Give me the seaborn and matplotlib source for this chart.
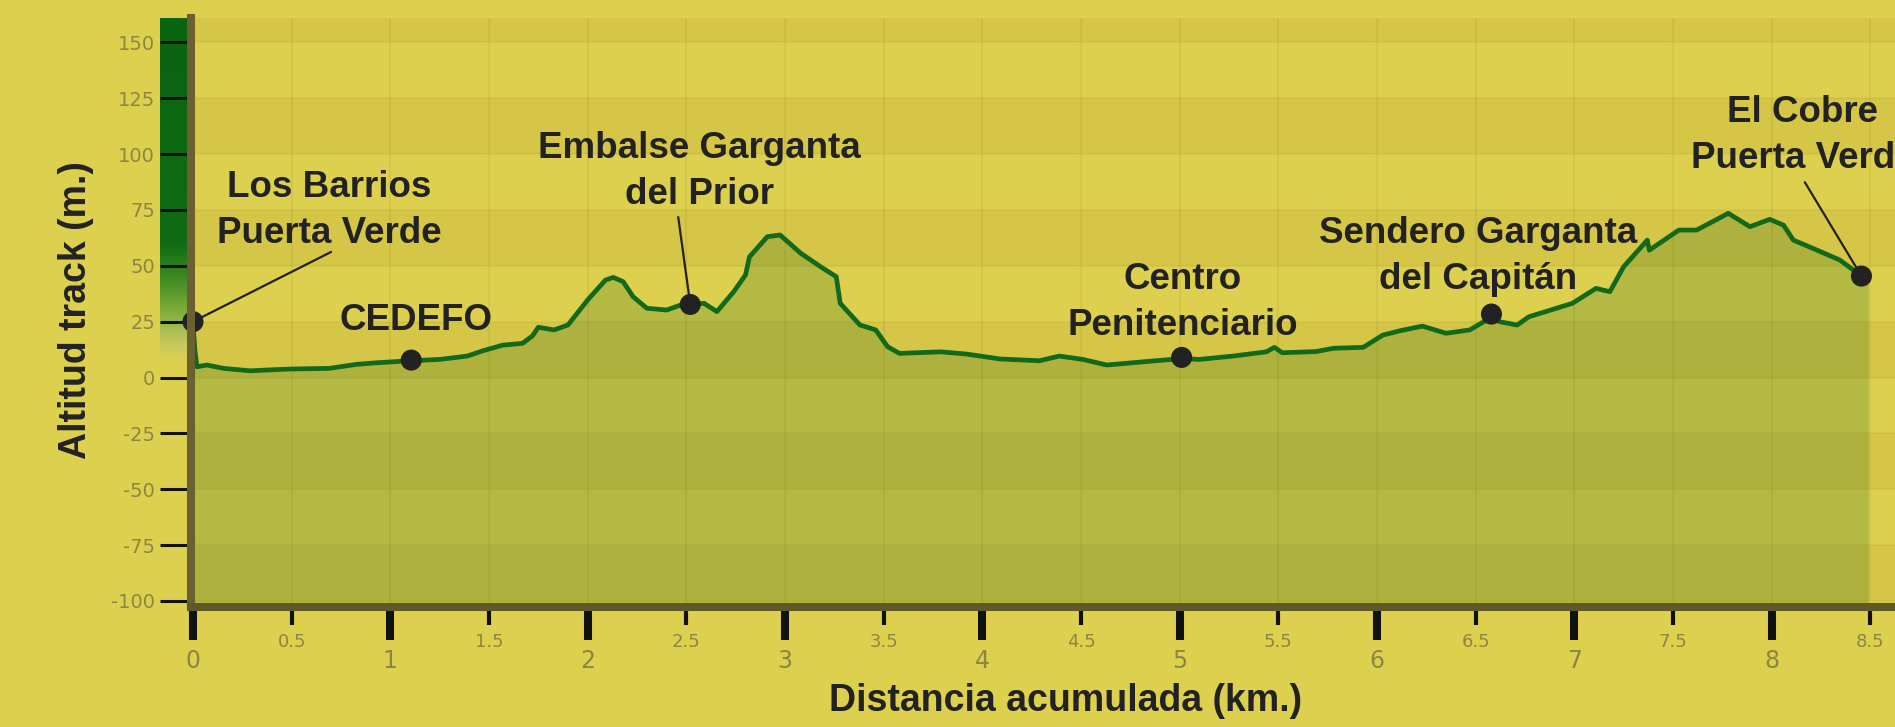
import numpy as np
import pandas as pd
import matplotlib
matplotlib.use("Agg")
import matplotlib.pyplot as plt
from matplotlib.colors import LinearSegmentedColormap
import seaborn as sns

# ---------------- data ----------------
dist_km = [0.000, 0.010, 0.020, 0.070, 0.155, 0.290, 0.360, 0.490, 0.690, 0.830,
           0.930, 1.100, 1.250, 1.390, 1.470, 1.570, 1.670, 1.720, 1.750, 1.830,
           1.900, 2.000, 2.090, 2.130, 2.180, 2.230, 2.300, 2.400, 2.470, 2.590,
           2.655, 2.740, 2.800, 2.820, 2.910, 2.975, 3.080, 3.180, 3.260, 3.280,
           3.380, 3.460, 3.520, 3.580, 3.790, 3.920, 4.090, 4.290, 4.390, 4.510,
           4.630, 4.760, 5.010, 5.100, 5.270, 5.440, 5.480, 5.520, 5.690, 5.780,
           5.930, 6.030, 6.120, 6.230, 6.350, 6.470, 6.580, 6.620, 6.710, 6.770,
           6.880, 6.990, 7.110, 7.180, 7.250, 7.370, 7.380, 7.530, 7.620, 7.780,
           7.890, 7.990, 8.060, 8.110, 8.230, 8.345, 8.455, 8.490]
altitude_m = [24.0, 12.0, 4.8, 5.6, 4.1, 3.0, 3.3, 3.8, 4.1, 5.9,
              6.6, 7.5, 8.1, 9.6, 12.0, 14.5, 15.3, 18.6, 22.5, 21.3,
              23.5, 34.7, 43.6, 44.8, 42.9, 36.2, 31.0, 30.2, 32.4, 33.2,
              29.5, 38.4, 45.9, 54.0, 63.0, 63.8, 55.6, 49.6, 45.1, 33.2,
              23.5, 21.3, 13.8, 10.8, 11.5, 10.5, 8.3, 7.5, 9.6, 8.1,
              5.6, 6.6, 8.5, 8.1, 9.6, 11.5, 13.5, 11.1, 11.6, 13.1,
              13.5, 19.0, 21.0, 23.0, 19.8, 21.3, 27.0, 25.0, 23.5, 27.2,
              30.2, 33.2, 39.9, 38.4, 49.6, 61.5, 57.0, 66.0, 66.0, 73.5,
              67.5, 70.8, 68.2, 61.5, 57.0, 52.6, 45.4, 43.5]

poi_names = ["Los Barrios\nPuerta Verde", "CEDEFO", "Embalse Garganta\ndel Prior",
             "Centro\nPenitenciario", "Sendero Garganta\ndel Capitán", "El Cobre\nPuerta Verde"]
poi_km = [0.0, 1.106, 2.52, 5.01, 6.58, 8.455]
poi_alt = [25.0, 7.8, 32.7, 9.0, 28.4, 45.4]
label_km = [0.690, 1.131, 2.565, 5.017, 6.511, 8.158]
label_alt = [74.6, 25.3, 92.2, 33.6, 54.0, 108.5]
leader_km = [0.70, None, 2.459, None, None, 8.168]
leader_alt = [56.2, None, 71.8, None, None, 87.4]

y_ticks = [-100, -75, -50, -25, 0, 25, 50, 75, 100, 125, 150]
x_major = [0, 1, 2, 3, 4, 5, 6, 7, 8]
x_minor = [0.5, 1.5, 2.5, 3.5, 4.5, 5.5, 6.5, 7.5, 8.5]

df = pd.DataFrame({"km": dist_km, "alt": altitude_m})
poi = pd.DataFrame({"km": poi_km, "alt": poi_alt})

# ---------------- style ----------------
BG = "#ddd04f"
FILL = "#b3b943"
LINE = "#12691a"
TXT = "#222222"
TICKC = "#8b8740"

sns.set_theme(style="white")
plt.rcParams["font.family"] = ["Liberation Sans", "DejaVu Sans"]
plt.rcParams["axes.unicode_minus"] = False

fig = plt.figure(figsize=(18.95, 7.27), dpi=100, facecolor=BG)
W, H = 1895.0, 727.0

# green altitude gradient bar at left of y axis
bar = fig.add_axes([160 / W, (H - 360) / H, 27 / W, (360 - 18) / H])
cmap = LinearSegmentedColormap.from_list(
    "g", [(0.0, "#0b6410"), (0.66, "#0f6c14"), (0.76, "#3f8a22"),
          (0.86, "#7fae3a"), (0.95, "#c3c860"), (1.0, BG)])
bar.imshow(np.linspace(0, 1, 256).reshape(-1, 1), aspect="auto", cmap=cmap)
bar.set_axis_off()

ax = fig.add_axes([191 / W, (H - 607) / H, (W - 191) / W, (607 - 18) / H])
ax.set_facecolor(BG)
ax.set_xlim(-0.01, 8.625)
ax.set_ylim(-102.7, 160.9)

# fill under profile
ax.fill_between(df["km"], df["alt"], -110, color=FILL, zorder=1, linewidth=0)

# alternating bands
for t in y_ticks + [175]:
    if t % 50 == 0 and t < 175:
        ax.axhspan(t, t + 25, color="#7a5a00", alpha=0.08, zorder=1.5, linewidth=0)

# grid
for xv in x_major + x_minor:
    ax.axvline(xv, color="#5a5000", alpha=0.07, lw=1.5, zorder=1.6)
for yv in y_ticks:
    ax.axhline(yv, color="#5a5000", alpha=0.05, lw=1.5, zorder=1.6)

sns.lineplot(data=df, x="km", y="alt", ax=ax, color=LINE, lw=3.4,
             estimator=None, sort=False, zorder=3)
sns.scatterplot(data=poi, x="km", y="alt", ax=ax, color=TXT, s=230,
                edgecolor="none", zorder=5, clip_on=False)

for name, pk, pa, lk, la, qk, qa in zip(poi_names, poi_km, poi_alt, label_km,
                                        label_alt, leader_km, leader_alt):
    if qk is not None:
        ax.plot([qk, pk], [qa, pa], color=TXT, lw=1.6, zorder=4)
    ax.text(lk, la, name, ha="center", va="center", fontsize=26.5,
            fontweight="bold", color=TXT, linespacing=1.41, zorder=6)

# spines
for s in ["top", "right"]:
    ax.spines[s].set_visible(False)
ax.spines["left"].set_color("#6b6030")
ax.spines["left"].set_linewidth(5.8)
ax.spines["bottom"].set_color("#5f5a25")
ax.spines["bottom"].set_linewidth(5.8)
ax.spines["left"].set_zorder(7)
ax.spines["bottom"].set_zorder(7)

# ticks
ax.set_yticks(y_ticks)
ax.set_yticklabels([str(v) for v in y_ticks])
ax.tick_params(axis="y", which="major", direction="out", length=22.3, width=2.2,
               color="#111111", labelsize=14, labelcolor=TICKC, pad=3.6, left=True)
ax.set_xticks(x_major)
ax.set_xticklabels([str(v) for v in x_major])
ax.set_xticks(x_minor, minor=True)
ax.set_xticklabels([f"{v:g}" for v in x_minor], minor=True)
ax.tick_params(axis="x", which="major", direction="out", length=24, width=5.8,
               color="#111111", labelsize=17, labelcolor=TICKC, pad=6, bottom=True)
ax.tick_params(axis="x", which="minor", direction="out", length=13, width=3,
               color="#111111", labelsize=13, labelcolor=TICKC, pad=5.5, bottom=True)
for lab in ax.get_xticklabels() + ax.get_xticklabels(minor=True) + ax.get_yticklabels():
    lab.set_fontfamily("DejaVu Sans")

ax.set_xlabel("Distancia acumulada (km.)", fontsize=27, fontweight="bold", color=TXT)
ax.set_ylabel("Altitud track (m.)", fontsize=27, fontweight="bold", color=TXT)
ax.xaxis.set_label_coords(0.513, -0.16)
ax.yaxis.set_label_coords(-0.0675, 0.504)
ax.xaxis.label.set_va("center")
ax.yaxis.label.set_va("center")

fig.savefig("out.png", dpi=100, facecolor=BG)
